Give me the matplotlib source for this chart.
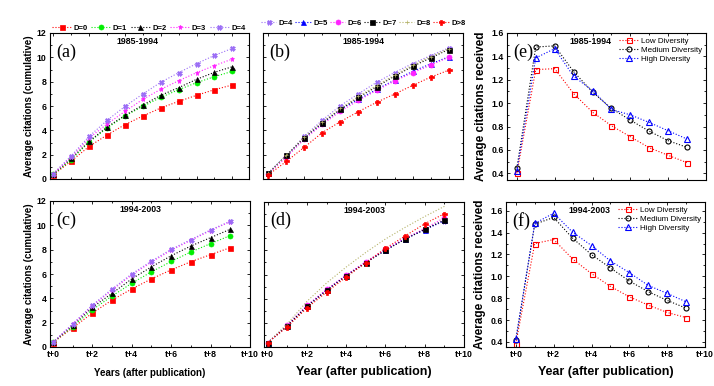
import numpy as np
import matplotlib
matplotlib.use('Agg')
import matplotlib.pyplot as plt
from matplotlib.ticker import MultipleLocator

plt.rcParams['font.family'] = ['Liberation Sans', 'DejaVu Sans']
plt.rcParams['font.weight'] = 'bold'
plt.rcParams['xtick.direction'] = 'in'
plt.rcParams['ytick.direction'] = 'in'
plt.rcParams['xtick.top'] = True
plt.rcParams['ytick.right'] = True

# ---- data ----
years_top = np.arange(11)
years_bot = np.arange(10)
xticklabels = ['t+0', 't+2', 't+4', 't+6', 't+8', 't+10']

# (a) 1985-1994, D=0..4
a_d0 = [0.35, 1.48, 2.68, 3.62, 4.47, 5.18, 5.84, 6.38, 6.88, 7.34, 7.73]
a_d1 = [0.38, 1.59, 3.04, 4.19, 5.18, 5.97, 6.71, 7.34, 7.92, 8.41, 8.85]
a_d2 = [0.40, 1.70, 3.10, 4.27, 5.23, 6.08, 6.88, 7.51, 8.19, 8.77, 9.23]
a_d3 = [0.42, 1.81, 3.37, 4.52, 5.56, 6.55, 7.37, 8.08, 8.74, 9.32, 9.86]
a_d4 = [0.45, 1.92, 3.51, 4.82, 5.97, 6.99, 7.95, 8.74, 9.48, 10.16, 10.74]

# (b) 1985-1994, D=4..>8
b_d4 = [0.49, 1.96, 3.52, 4.85, 6.03, 7.01, 7.94, 8.75, 9.49, 10.14, 10.77]
b_d5 = [0.49, 1.94, 3.41, 4.58, 5.73, 6.55, 7.36, 8.13, 8.84, 9.46, 10.04]
b_d6 = [0.44, 1.80, 3.27, 4.50, 5.56, 6.46, 7.28, 8.05, 8.73, 9.35, 10.00]
b_d7 = [0.49, 1.94, 3.41, 4.64, 5.73, 6.71, 7.58, 8.45, 9.25, 9.95, 10.64]
b_d8 = [0.47, 1.95, 3.45, 4.70, 5.80, 6.80, 7.68, 8.55, 9.35, 10.05, 10.70]
b_dg8 = [0.35, 1.45, 2.62, 3.82, 4.72, 5.54, 6.30, 6.98, 7.69, 8.37, 8.94]

# (c) 1994-2003, D=0..4
c_d0 = [0.36, 1.57, 2.79, 3.86, 4.77, 5.60, 6.34, 7.01, 7.59, 8.17]
c_d1 = [0.37, 1.68, 3.06, 4.19, 5.24, 6.18, 7.03, 7.81, 8.50, 9.16]
c_d2 = [0.38, 1.77, 3.26, 4.41, 5.60, 6.59, 7.50, 8.30, 8.99, 9.68]
c_d3 = [0.38, 1.87, 3.38, 4.68, 5.92, 6.98, 7.95, 8.77, 9.57, 10.30]
c_d4 = [0.39, 1.90, 3.45, 4.77, 6.01, 7.06, 8.03, 8.83, 9.63, 10.34]

# (d) 1994-2003, D=4..>8
d_d4 = [0.36, 1.80, 3.42, 4.74, 5.94, 7.03, 8.05, 8.94, 9.70, 10.42]
d_d5 = [0.36, 1.78, 3.38, 4.70, 5.92, 7.00, 8.03, 8.95, 9.72, 10.48]
d_d6 = [0.36, 1.80, 3.45, 4.77, 5.96, 7.06, 8.08, 9.00, 9.80, 10.70]
d_d7 = [0.36, 1.76, 3.36, 4.69, 5.90, 6.98, 8.00, 8.92, 9.74, 10.50]
d_d8 = [0.36, 1.92, 3.78, 5.30, 6.62, 7.83, 8.94, 9.90, 10.80, 11.64]
d_dg8 = [0.36, 1.68, 3.23, 4.55, 5.79, 6.98, 8.17, 9.19, 10.20, 11.03]

# (e) 1985-1994, diversity
e_low = [0.40, 1.287, 1.295, 1.082, 0.923, 0.807, 0.713, 0.619, 0.554, 0.491]
e_med = [0.443, 1.48, 1.49, 1.27, 1.095, 0.955, 0.855, 0.76, 0.679, 0.622]
e_high = [0.42, 1.387, 1.466, 1.23, 1.108, 0.946, 0.90, 0.835, 0.764, 0.693]

# (f) 1994-2003, diversity
f_low = [0.385, 1.30, 1.337, 1.159, 1.025, 0.908, 0.813, 0.737, 0.67, 0.623]
f_med = [0.418, 1.477, 1.539, 1.349, 1.199, 1.077, 0.957, 0.86, 0.78, 0.709]
f_high = [0.424, 1.484, 1.578, 1.404, 1.282, 1.141, 1.034, 0.917, 0.844, 0.767]

# ---- styles ----
PURPLE = '#9a6cf5'
OLIVE = '#b5b36a'
sty = {
    'D=0': dict(color='red', marker='s'),
    'D=1': dict(color='#00ee00', marker='o'),
    'D=2': dict(color='black', marker='^'),
    'D=3': dict(color='#ff22ff', marker='*'),
    'D=4': dict(color=PURPLE, marker='X'),
    'D=5': dict(color='blue', marker='^'),
    'D=6': dict(color='#ff22ff', marker='o'),
    'D=7': dict(color='black', marker='s'),
    'D=8': dict(color=OLIVE, marker='+'),
    'D>8': dict(color='red', marker='P'),
}


def line(ax, x, y, name, ms=3.6):
    s = sty[name]
    ax.plot(x, y, linestyle=':', linewidth=0.8, color=s['color'], marker=s['marker'],
            markersize=ms if s['marker'] != '+' else 3, markeredgewidth=0.5,
            label=name)


fig = plt.figure(figsize=(7.14, 3.86), dpi=100)
W, H = 714.0, 386.0


def mk(l, r, t, b):
    return fig.add_axes([l / W, 1 - b / H, (r - l) / W, (b - t) / H])


axa = mk(50, 249, 33, 179)
axb = mk(263, 463, 33, 179)
axe = mk(507, 706, 33, 180)
axc = mk(50, 250, 201, 347)
axd = mk(264, 464, 202, 347)
axf = mk(506, 705, 202, 347)

tick_fs = 6.3


def fmt_cum(ax, xlim, show_y, show_x):
    ax.set_xlim(*xlim)
    ax.set_ylim(0, 12)
    ax.xaxis.set_major_locator(MultipleLocator(2))
    ax.xaxis.set_minor_locator(MultipleLocator(1))
    ax.yaxis.set_major_locator(MultipleLocator(2))
    ax.yaxis.set_minor_locator(MultipleLocator(1))
    ax.tick_params(which='both', labelsize=tick_fs, length=2.5, width=0.6, pad=2.5)
    ax.tick_params(which='minor', length=1.5)
    if show_x:
        ax.set_xticks(range(0, 11, 2))
        ax.set_xticklabels(xticklabels)
    else:
        ax.set_xticklabels([])
    if not show_y:
        ax.set_yticklabels([])
    for sp in ax.spines.values():
        sp.set_linewidth(0.8)


def fmt_div(ax, ylim):
    ax.set_xlim(-0.52, 10)
    ax.set_ylim(*ylim)
    ax.xaxis.set_minor_locator(MultipleLocator(1))
    ax.yaxis.set_major_locator(MultipleLocator(0.2))
    ax.yaxis.set_minor_locator(MultipleLocator(0.1))
    ax.tick_params(which='both', labelsize=tick_fs, length=2.5, width=0.6, pad=2.5)
    ax.tick_params(which='minor', length=1.5)
    ax.yaxis.set_major_formatter(matplotlib.ticker.FormatStrFormatter('%.1f'))
    for sp in ax.spines.values():
        sp.set_linewidth(0.8)


leg_kw = dict(frameon=False, fontsize=5.5, handletextpad=0.3,
              borderaxespad=0.0, borderpad=0.0)

# (a)
for y, n in [(a_d0, 'D=0'), (a_d1, 'D=1'), (a_d2, 'D=2'), (a_d3, 'D=3'), (a_d4, 'D=4')]:
    line(axa, years_top, y, n)
fmt_cum(axa, (-0.19, 10.93), True, False)
axa.set_ylabel('Average citations (cumulative)', fontsize=7, fontweight='bold', labelpad=2)
axa.legend(loc='lower left', bbox_to_anchor=(0.01, 1.01), ncol=5,
           handlelength=2.5, columnspacing=0.5, **leg_kw)

# (b)
for y, n in [(b_d4, 'D=4'), (b_d5, 'D=5'), (b_d6, 'D=6'), (b_d7, 'D=7'), (b_d8, 'D=8'), (b_dg8, 'D>8')]:
    line(axb, years_top, y, n)
fmt_cum(axb, (-0.3, 10.8), False, False)
axb.legend(loc='lower left', bbox_to_anchor=(-0.01, 1.04), ncol=6,
           handlelength=2.0, columnspacing=0.35, **leg_kw)

# (c)
for y, n in [(c_d0, 'D=0'), (c_d1, 'D=1'), (c_d2, 'D=2'), (c_d3, 'D=3'), (c_d4, 'D=4')]:
    line(axc, years_bot, y, n)
fmt_cum(axc, (-0.15, 10.0), True, True)
axc.set_ylabel('Average citations (cumulative)', fontsize=7, fontweight='bold', labelpad=2)
axc.set_xlabel('Years (after publication)', fontsize=7, fontweight='bold', labelpad=6)

# (d)
for y, n in [(d_d4, 'D=4'), (d_d5, 'D=5'), (d_d6, 'D=6'), (d_d7, 'D=7')]:
    line(axd, years_bot, y, n)
axd.plot(years_bot, d_d8, linestyle=':', linewidth=0.8, color=OLIVE)
line(axd, years_bot, d_dg8, 'D>8')
fmt_cum(axd, (-0.19, 10.0), False, True)
axd.set_xlabel('Year (after publication)', fontsize=9, fontweight='bold', labelpad=5)

# (e), (f)
for ax, lo, me, hi, ylim in [(axe, e_low, e_med, e_high, (0.343, 1.6)),
                             (axf, f_low, f_med, f_high, (0.354, 1.68))]:
    ax.plot(years_bot, lo, ':', color='red', marker='s', mfc='none', ms=3.6, mew=0.8, lw=0.8, label='Low Diversity')
    ax.plot(years_bot, me, ':', color='black', marker='o', mfc='none', ms=3.6, mew=0.8, lw=0.8, label='Medium Diversity')
    ax.plot(years_bot, hi, ':', color='blue', marker='^', mfc='none', ms=4.2, mew=0.8, lw=0.8, label='High Diversity')
    fmt_div(ax, ylim)
    ax.set_ylabel('Average citations received', fontsize=8.5, fontweight='bold', labelpad=3)
    leg = ax.legend(loc='upper right', bbox_to_anchor=(0.98, 0.97), frameon=False, fontsize=5.8,
                    handlelength=2.4, handletextpad=0.3, labelspacing=0.15,
                    borderaxespad=0.0, borderpad=0.0)
    for t in leg.get_texts():
        t.set_fontweight('normal')
axe.set_xticks(range(0, 11, 2))
axe.set_xticklabels([])
axf.set_xticks(range(0, 11, 2))
axf.set_xticklabels(xticklabels)
axf.set_xlabel('Year (after publication)', fontsize=9, fontweight='bold', labelpad=5)

# panel letters and titles
letter_font = dict(family=['Liberation Serif', 'DejaVu Serif'], fontsize=13, fontweight='normal')
for ax, letter, title, tx in [(axa, '(a)', '1985-1994', 0.44), (axb, '(b)', '1985-1994', 0.5),
                              (axe, '(e)', '1985-1994', 0.42), (axc, '(c)', '1994-2003', 0.45),
                              (axd, '(d)', '1994-2003', 0.5), (axf, '(f)', '1994-2003', 0.42)]:
    ax.text(0.03, 0.93, letter, transform=ax.transAxes, va='top', ha='left', **letter_font)
    ax.text(tx, 0.975, title, transform=ax.transAxes, va='top', ha='center', fontsize=6.3, fontweight='bold')

fig.savefig('out.png', dpi=100)
